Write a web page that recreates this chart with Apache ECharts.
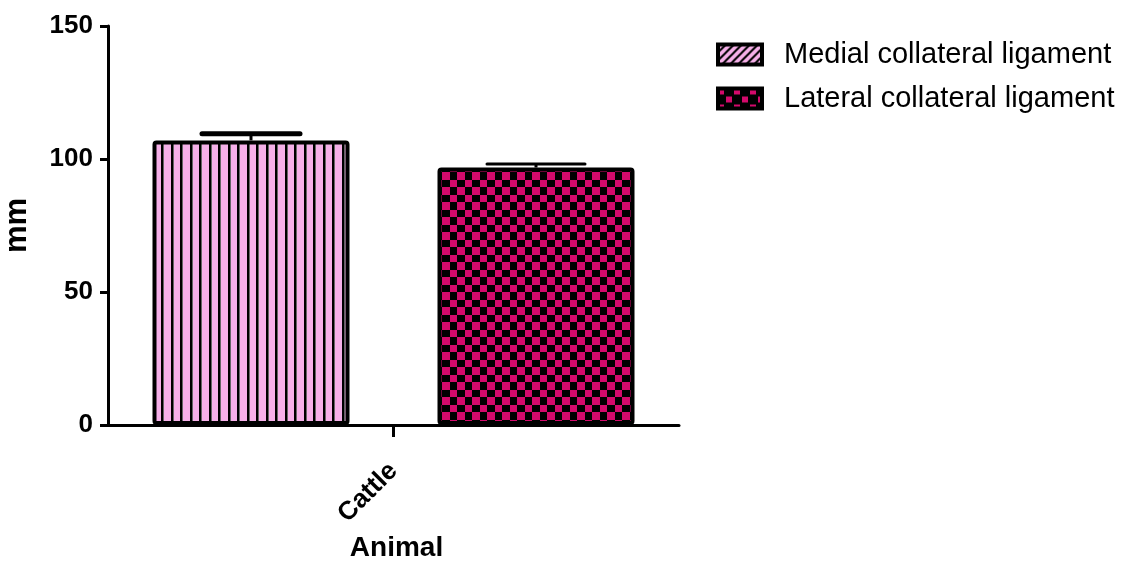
<!DOCTYPE html>
<html>
<head>
<meta charset="utf-8">
<script src="https://cdn.jsdelivr.net/npm/echarts@6/dist/echarts.min.js"></script>
<style>html,body{margin:0;padding:0;background:#fff}#c{width:1137px;height:567px}</style>
</head>
<body>
<div id="c"></div>
<script>
var categories = ['Cattle'];
var seriesNames = ['Medial collateral ligament', 'Lateral collateral ligament'];
var medialMean = [107.0];
var medialErr = [2.5];
var lateralMean = [96.8];
var lateralErr = [1.3];
var yTicks = {min: 0, max: 150, interval: 50};

var PINK = '#f6b0e9', CRIMSON = '#d30a6b';
function mk(w, h, draw) { var c = document.createElement('canvas'); c.width = w; c.height = h; draw(c.getContext('2d')); return c; }
var stripes = mk(19, 4, function (g) { g.fillStyle = PINK; g.fillRect(0, 0, 19, 4); g.fillStyle = '#000'; g.fillRect(0, 0, 2, 4); g.fillRect(9, 0, 2, 4); g.fillStyle = '#666'; g.fillRect(2, 0, 1, 4); g.fillRect(11, 0, 1, 4); });
var checker = mk(15, 15, function (g) { g.fillStyle = '#000'; g.fillRect(0, 0, 15, 15); g.fillStyle = CRIMSON; g.fillRect(0, 0, 7, 7); g.fillRect(7, 7, 8, 8); });
var diag = mk(8, 8, function (g) { g.fillStyle = PINK; g.fillRect(0, 0, 8, 8); g.strokeStyle = '#000'; g.lineWidth = 2; g.beginPath(); g.moveTo(-2, 10); g.lineTo(10, -2); g.moveTo(6, 10); g.lineTo(10, 6); g.moveTo(-2, 2); g.lineTo(2, -2); g.stroke(); });
var checker2 = mk(16, 16, function (g) { g.fillStyle = '#000'; g.fillRect(0, 0, 16, 16); g.fillStyle = CRIMSON; g.fillRect(0, 0, 6, 6); g.fillRect(8, 8, 6, 6); });

var BAR_W = 197, BAR_GAP = 88;
var FONT = 'Liberation Sans, Arial, sans-serif';
var means = [medialMean, lateralMean], errs = [medialErr, lateralErr];

function errSeries(idx) {
  return {
    type: 'custom', silent: true, z: 5,
    data: categories.map(function (c, i) { return [i, means[idx][i], errs[idx][i]]; }),
    renderItem: function (params, api) {
      var total = 2 * BAR_W + BAR_GAP;
      var off = -total / 2 + BAR_W / 2 + idx * (BAR_W + BAR_GAP);
      var p0 = api.coord([api.value(0), api.value(1)]);
      var p1 = api.coord([api.value(0), api.value(1) + api.value(2)]);
      var x = p0[0] + off, hw = 49;
      return {type: 'group', children: [
        {type: 'line', shape: {x1: x, y1: p0[1], x2: x, y2: p1[1]}, style: {stroke: '#000', lineWidth: 3}},
        {type: 'line', shape: {x1: x - hw, y1: p1[1], x2: x + hw, y2: p1[1]}, style: {stroke: '#000', lineWidth: idx === 0 ? 5 : 3, lineCap: 'round'}}
      ]};
    }
  };
}

var chart = echarts.init(document.getElementById('c'));
chart.setOption({
  animation: false,
  textStyle: {fontFamily: FONT},
  grid: {left: 108, right: 458, top: 26, bottom: 142, containLabel: false, outerBoundsMode: 'none'},
  legend: {
    orient: 'vertical', left: 711, top: 35, itemWidth: 44, itemHeight: 20, itemGap: 15,
    icon: 'rect', selectedMode: false,
    textStyle: {fontSize: 29, color: '#000', fontFamily: FONT, padding: [0, 0, 0, 17]},
    data: [
      {name: seriesNames[0], itemStyle: {color: {image: diag, repeat: 'repeat'}, borderColor: '#000', borderWidth: 4}},
      {name: seriesNames[1], itemStyle: {color: {image: checker2, repeat: 'repeat'}, borderColor: '#000', borderWidth: 4}}
    ]
  },
  xAxis: {
    type: 'category', data: categories,
    name: 'Animal', nameLocation: 'middle', nameGap: 106,
    nameTextStyle: {fontSize: 28, fontWeight: 'bold', color: '#000', padding: [0, 0, 0, 6]},
    axisLine: {lineStyle: {color: '#000', width: 3}},
    axisTick: {show: true, interval: 0, alignWithLabel: true, length: 12, lineStyle: {color: '#000', width: 3}},
    axisLabel: {rotate: 45, fontSize: 26, fontWeight: 'bold', color: '#000', margin: 42}
  },
  yAxis: {
    type: 'value', min: yTicks.min, max: yTicks.max, interval: yTicks.interval,
    name: 'mm', nameLocation: 'middle', nameGap: 75,
    nameTextStyle: {fontSize: 31, fontWeight: 'bold', color: '#000'},
    splitLine: {show: false},
    axisLine: {show: true, lineStyle: {color: '#000', width: 3}},
    axisTick: {show: true, length: 8, lineStyle: {color: '#000', width: 3}},
    axisLabel: {fontSize: 26, fontWeight: 'bold', color: '#000', margin: 15}
  },
  series: [
    {name: seriesNames[0], type: 'bar', data: medialMean, barWidth: BAR_W, barGap: (BAR_GAP / BAR_W * 100) + '%',
     itemStyle: {color: {image: stripes, repeat: 'repeat'}, borderColor: '#000', borderWidth: 4, borderRadius: 2}},
    {name: seriesNames[1], type: 'bar', data: lateralMean, barWidth: BAR_W,
     itemStyle: {color: {image: checker, repeat: 'repeat'}, borderColor: '#000', borderWidth: 4, borderRadius: 2}},
    errSeries(0), errSeries(1)
  ]
});
</script>
</body>
</html>
